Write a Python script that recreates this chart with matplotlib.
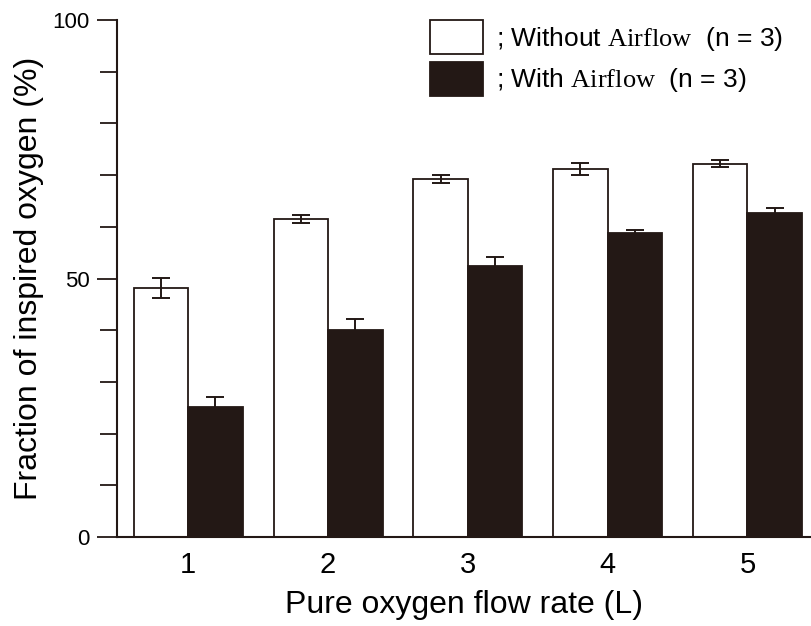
import matplotlib.pyplot as plt
import numpy as np
from matplotlib.ticker import MultipleLocator

plt.rcParams['font.family'] = 'Liberation Sans'
plt.rcParams['mathtext.fontset'] = 'custom'
plt.rcParams['mathtext.rm'] = 'Liberation Serif'

# data
flow_rate = [1, 2, 3, 4, 5]
without_airflow = [48.2, 61.5, 69.3, 71.2, 72.2]
without_err = [1.9, 0.8, 0.8, 1.2, 0.7]
with_airflow = [25.1, 40.0, 52.4, 58.8, 62.7]
with_err = [2.0, 2.2, 1.8, 0.5, 0.9]

dark = '#231815'
x = np.array(flow_rate)
w = 0.39

fig = plt.figure(figsize=(8.12, 6.26), dpi=100)
ax = fig.add_axes([0.144, 0.142, 0.854, 0.826])

ax.bar(x - w / 2, without_airflow, w, color='white', edgecolor=dark, linewidth=1.3,
       yerr=without_err, capsize=6.5, error_kw=dict(ecolor=dark, elinewidth=1.4, capthick=1.4),
       label='; Without $\\mathrm{Airflow}$  (n = 3)')
ax.bar(x + w / 2, with_airflow, w, color=dark, edgecolor=dark, linewidth=1.3,
       yerr=with_err, capsize=6.5, error_kw=dict(ecolor=dark, elinewidth=1.4, capthick=1.4),
       label='; With $\\mathrm{Airflow}$  (n = 3)')

ax.set_xlim(0.49, 5.45)
ax.set_ylim(0, 100)
ax.set_xticks(x)
ax.set_xticklabels([str(v) for v in flow_rate])
ax.yaxis.set_major_locator(MultipleLocator(50))
ax.yaxis.set_minor_locator(MultipleLocator(10))
ax.tick_params(axis='y', which='major', length=14.5, width=1.3, labelsize=16, pad=5, color=dark)
ax.tick_params(axis='y', which='minor', length=12, width=1.3, color=dark)
ax.tick_params(axis='x', length=0, labelsize=21, pad=10)

for s in ['top', 'right']:
    ax.spines[s].set_visible(False)
for s in ['left', 'bottom']:
    ax.spines[s].set_linewidth(1.5)
    ax.spines[s].set_color(dark)

ax.set_xlabel('Pure oxygen flow rate (L)', fontsize=23, labelpad=8)
ax.set_ylabel('Fraction of inspired oxygen (%)', fontsize=23, labelpad=6)

ax.legend(loc='upper left', bbox_to_anchor=(0.452, 1.0), frameon=False, fontsize=19,
          handlelength=2.0, handleheight=1.6, handletextpad=0.5, labelspacing=0.3,
          borderpad=0, borderaxespad=0)

fig.savefig('out.png', dpi=100)
